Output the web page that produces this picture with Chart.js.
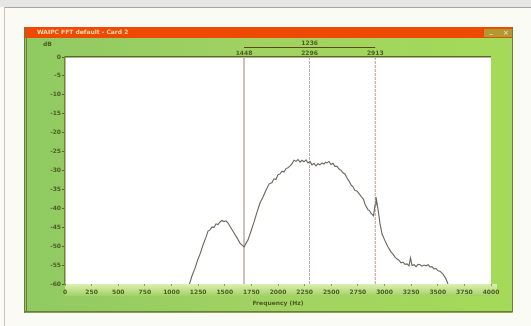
<!DOCTYPE html>
<html><head><meta charset="utf-8">
<script src="https://cdn.jsdelivr.net/npm/chart.js@4"></script>
<style>html,body{margin:0;padding:0;background:#fbfbf6;overflow:hidden}canvas{display:block;filter:blur(0.5px)}</style>
</head><body><canvas id="c" width="531" height="326"></canvas>
<script>
const windowTitle = "WAIPC FFT default - Card 2";
const xAxisTitle = "Frequency (Hz)";
const yAxisTitle = "dB";
const xTicks = [0,250,500,750,1000,1250,1500,1750,2000,2250,2500,2750,3000,3250,3500,3750,4000];
const yTicks = [0,-5,-10,-15,-20,-25,-30,-35,-40,-45,-50,-55,-60];
const freq = [1169,1192,1221,1249,1268,1296,1324,1343,1362,1380,1399,1418,1437,1455,1474,1493,1512,1531,1559,1587,1615,1643,1662,1681,1700,1718,1747,1775,1803,1831,1859,1887,1916,1944,1962,1981,2000,2019,2038,2056,2075,2094,2113,2132,2150,2169,2188,2207,2225,2244,2263,2282,2300,2319,2338,2357,2375,2394,2413,2432,2446,2460,2479,2498,2516,2535,2554,2573,2592,2610,2629,2648,2667,2686,2704,2723,2742,2761,2789,2803,2817,2845,2859,2873,2897,2911,2920,2930,2944,2958,2977,3005,3033,3061,3080,3099,3118,3136,3155,3174,3193,3212,3230,3244,3258,3277,3296,3315,3333,3352,3371,3390,3409,3428,3446,3465,3484,3503,3521,3549,3578,3596];
const level = [-60,-57.9,-55.8,-53.4,-52.1,-49.7,-47.6,-46,-45.7,-44.9,-45.1,-44.1,-44.3,-43.6,-43.2,-43.5,-43.3,-43.9,-45.2,-46.5,-47.8,-49.2,-49.7,-50.2,-49.2,-48.4,-46,-43.6,-41,-38.6,-37,-35.2,-33.6,-33.2,-32.2,-32.4,-31.1,-30.9,-30.2,-30.4,-29.5,-29.3,-28.8,-28.2,-27.3,-27.6,-27.1,-27.8,-27.3,-27.7,-27.2,-28,-27.6,-28.5,-28.1,-28.8,-28.2,-28.5,-28,-28.3,-27.8,-28,-27.6,-28.4,-28.1,-28.9,-28.9,-29.6,-29.9,-30.6,-30.9,-32,-32.8,-33.8,-34.3,-35.3,-35.4,-36.1,-37.2,-37.6,-38.9,-40.4,-40.6,-41.3,-42,-39.1,-37,-38.6,-41.2,-44.1,-46.8,-48.6,-50.2,-51.5,-52.1,-52.9,-53.4,-53.7,-54.4,-54.2,-54.8,-54.7,-55.2,-53.1,-55.1,-54.9,-55.4,-54.8,-54.9,-55.3,-55,-55.2,-54.9,-55.5,-55.4,-56,-55.9,-56.5,-56.6,-57.4,-58.7,-60];
const cursorFreq = [1681,2296,2913];
const cursorLabels = ["1448","2296","2913"];
const spanLabel = "1236";

const ink = "#4c5c22";
const fnt = "bold 6px 'DejaVu Sans'";
const frame = {
  id: "frame",
  beforeDraw(ch) {
    const g = ch.ctx, a = ch.chartArea;
    g.save();
    g.fillStyle = "#fbfbf6"; g.fillRect(0,0,531,326);
    g.fillStyle = "#e6e6e2"; g.fillRect(0,0,531,7);
    g.fillStyle = "#a8a8ac"; g.fillRect(5,7,526,1);
    g.fillStyle = "#cdbfc0"; g.fillRect(4,7,1,319);
    const wg = g.createLinearGradient(24,0,512,0);
    wg.addColorStop(0,"#8fca62"); wg.addColorStop(0.5,"#a2d262"); wg.addColorStop(1,"#a4da58");
    g.fillStyle = wg; g.fillRect(24,27,489,286);
    const bg = g.createLinearGradient(0,a.bottom,0,a.bottom+12);
    bg.addColorStop(0,"#dcf0b4"); bg.addColorStop(1,"#a2d262");
    g.fillStyle = bg; g.fillRect(a.left,a.bottom,a.right-a.left+6,12);
    g.fillStyle = "#ee4a04"; g.fillRect(25,27,487,11);
    g.fillStyle = "#b09a30"; g.fillRect(484,29,28,8);
    g.fillStyle = "#6e7a40";
    g.fillRect(24,27,1,286); g.fillRect(26,38,1,273); g.fillRect(24,311,488,1.5); g.fillRect(512,27,1,285);
    g.fillStyle = "#ffffff"; g.fillRect(a.left,a.top,a.right-a.left,a.bottom-a.top);
    g.fillStyle = "#556b24"; g.fillRect(a.left,a.top-1,a.right-a.left,1.5);
    g.restore();
  },
  afterDraw(ch) {
    const g = ch.ctx, x = ch.scales.x, a = ch.chartArea;
    g.save();
    g.font = fnt; g.textBaseline = "middle"; g.textAlign = "left";
    g.fillStyle = "#ffd9b0"; g.fillText(windowTitle,37,32);
    g.fillStyle = ink; g.fillText(yAxisTitle,43,44);
    g.textAlign = "center";
    g.fillText(xAxisTitle,(a.left+a.right)/2,303);
    cursorFreq.forEach((f,i) => g.fillText(cursorLabels[i], x.getPixelForValue(f), 53));
    const p0 = x.getPixelForValue(cursorFreq[0]), p2 = x.getPixelForValue(cursorFreq[2]);
    g.fillText(spanLabel,(p0+p2)/2,43);
    g.strokeStyle = "#5a4a20"; g.lineWidth = 1;
    g.beginPath(); g.moveTo(p0,47.5); g.lineTo(p2,47.5); g.stroke();
    g.fillStyle = "#ddd9c8"; g.font = "bold 7px 'DejaVu Sans'";
    g.fillText("_",491,31); g.fillText("×",506,33);
    g.restore();
  }
};
const cursor = (f,dash,color) => ({
  data: yTicks.filter(v => v===0||v===-60).map(v => ({x:f,y:v})),
  borderColor: color, borderWidth: 1, borderDash: dash, pointRadius: 0, order: 2
});
new Chart(document.getElementById("c"), {
  type: "line",
  data: { datasets: [
    { data: freq.map((f,i) => ({x:f,y:level[i]})), borderColor:"#66665a", borderWidth:1.1, pointRadius:0, tension:0, order:1 },
    cursor(cursorFreq[0],[],"#c8b8ae"),
    cursor(cursorFreq[1],[3,1],"#c8a6a6"),
    cursor(cursorFreq[2],[3,1],"#c8968e")
  ]},
  options: {
    responsive:false, animation:false, events:[],
    layout:{padding:{left:0,top:57,right:40,bottom:0}},
    plugins:{legend:{display:false},tooltip:{enabled:false}},
    scales:{
      x:{type:"linear",min:0,max:4000,afterFit(s){s.height=42},
        afterBuildTicks(s){s.ticks=xTicks.map(v=>({value:v}))},
        grid:{drawOnChartArea:false,drawTicks:true,tickLength:2,color:"#8aa050"},
        border:{display:false},
        ticks:{autoSkip:false,maxRotation:0,padding:3,color:ink,callback:v=>String(v),font:{family:"DejaVu Sans",size:6,weight:"bold"}}},
      y:{min:-60,max:0,afterFit(s){s.width=65},
        afterBuildTicks(s){s.ticks=yTicks.map(v=>({value:v}))},
        grid:{drawOnChartArea:false,drawTicks:true,tickLength:3,color:"#556b24"},
        border:{display:true,color:"#6e8430",width:1.5},
        ticks:{autoSkip:false,padding:1,color:ink,callback:v=>String(v),font:{family:"DejaVu Sans",size:6,weight:"bold"}}}
    }
  },
  plugins:[frame]
});
</script></body></html>
